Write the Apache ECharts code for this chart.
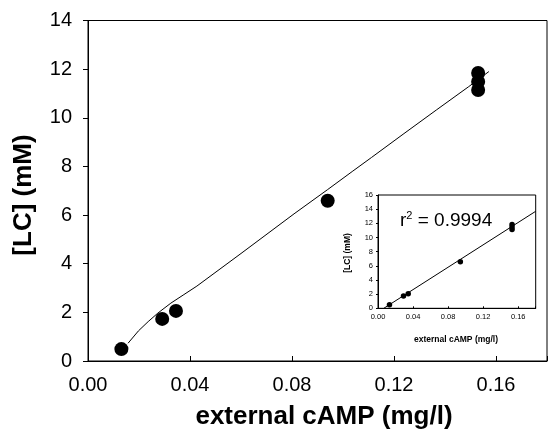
<!DOCTYPE html>
<html>
<head>
<meta charset="utf-8">
<script src="https://cdn.jsdelivr.net/npm/echarts@6/dist/echarts.min.js"></script>
<style>
html,body{margin:0;padding:0;background:#fff;}
#chart{width:550px;height:441px;}
</style>
</head>
<body>
<div id="chart"></div>
<script>
// measured data points
const dataX = [0.0131, 0.0291, 0.0345, 0.094, 0.153, 0.153, 0.153];
const dataY = [0.49, 1.73, 2.06, 6.59, 11.84, 11.48, 11.14];
// fitted curve (main panel)
const curveX = [0.0157, 0.0198, 0.0236, 0.0274, 0.0325, 0.0376, 0.0427, 0.0600, 0.0808, 0.0940, 0.1036, 0.1112, 0.1239, 0.1366, 0.1493, 0.1572];
const curveY = [0.73, 1.24, 1.62, 1.97, 2.38, 2.73, 3.08, 4.42, 6.05, 7.05, 7.79, 8.37, 9.35, 10.32, 11.28, 11.90];
// linear fit (inset)
const fitX = [0.0066, 0.18];
const fitY = [0, 13.7];
// ticks
const mainXTicks = [0, 0.04, 0.08, 0.12, 0.16];
const mainYTicks = [0, 2, 4, 6, 8, 10, 12, 14];
const insetXTicks = [0, 0.04, 0.08, 0.12, 0.16];
const insetYTicks = [0, 2, 4, 6, 8, 10, 12, 14, 16];
const rSquared = '0.9994';

const F = 'Liberation Sans, Arial, sans-serif';
const zip = (a, b) => a.map((v, i) => [v, b[i]]);
const inTicks = (arr, v) => arr.some(t => Math.abs(t - v) < 1e-9);

const chart = echarts.init(document.getElementById('chart'));
chart.setOption({
  animation: false,
  backgroundColor: '#fff',
  grid: [
    {left: 88, top: 20.5, width: 472.5, height: 340.5, show: true, borderColor: '#000', borderWidth: 1},
    {left: 378, top: 195, width: 157.7, height: 113.3, show: true, borderColor: '#000', borderWidth: 1, backgroundColor: '#fff', z: 10}
  ],
  xAxis: [
    {gridIndex: 0, type: 'value', min: 0, max: 0.18, interval: 0.04,
     axisLine: {show: true, lineStyle: {color: '#000', width: 1}},
     axisTick: {show: true, inside: true, length: 5, lineStyle: {color: '#000'}},
     splitLine: {show: false},
     axisLabel: {fontFamily: F, fontSize: 20, color: '#000', margin: 14,
       formatter: v => inTicks(mainXTicks, v) ? v.toFixed(2) : ''}},
    {gridIndex: 1, type: 'value', min: 0, max: 0.18, interval: 0.04,
     axisLine: {show: true, lineStyle: {color: '#000', width: 1}},
     axisTick: {show: true, inside: true, length: 2, lineStyle: {color: '#000'}},
     splitLine: {show: false},
     axisLabel: {fontFamily: F, fontSize: 7.5, color: '#000', margin: 5,
       formatter: v => inTicks(insetXTicks, v) ? v.toFixed(2) : ''},
     z: 10}
  ],
  yAxis: [
    {gridIndex: 0, type: 'value', min: 0, max: 14, interval: 2,
     axisLine: {show: true, lineStyle: {color: '#000', width: 1}},
     axisTick: {show: true, length: 5, lineStyle: {color: '#000'}},
     splitLine: {show: false},
     axisLabel: {fontFamily: F, fontSize: 20, color: '#000', margin: 16,
       formatter: v => inTicks(mainYTicks, v) ? String(v) : ''}},
    {gridIndex: 1, type: 'value', min: 0, max: 16, interval: 2,
     axisLine: {show: true, lineStyle: {color: '#000', width: 1}},
     axisTick: {show: true, length: 2, lineStyle: {color: '#000'}},
     splitLine: {show: false},
     axisLabel: {fontFamily: F, fontSize: 7.5, color: '#000', margin: 5,
       formatter: v => inTicks(insetYTicks, v) ? String(v) : ''},
     z: 10}
  ],
  series: [
    {type: 'line', xAxisIndex: 0, yAxisIndex: 0, data: zip(curveX, curveY), showSymbol: false, symbol: 'none',
     smooth: false, lineStyle: {color: '#000', width: 1}, z: 2},
    {type: 'scatter', xAxisIndex: 0, yAxisIndex: 0, data: zip(dataX, dataY), symbolSize: 14,
     itemStyle: {color: '#000', opacity: 1}, z: 3},
    {type: 'line', xAxisIndex: 1, yAxisIndex: 1, data: zip(fitX, fitY), showSymbol: false, symbol: 'none',
     lineStyle: {color: '#000', width: 1}, z: 11},
    {type: 'scatter', xAxisIndex: 1, yAxisIndex: 1, data: zip(dataX, dataY), symbolSize: 5.5,
     itemStyle: {color: '#000', opacity: 1}, z: 12}
  ],
  graphic: [
    {type: 'text', z: 20, x: 324, y: 417,
     style: {text: 'external cAMP (mg/l)', font: 'bold 26px ' + F, fill: '#000', x: 0, y: 0, align: 'center', verticalAlign: 'middle'}},
    {type: 'text', z: 20, rotation: Math.PI / 2, x: 24, y: 195,
     style: {text: '[LC] (mM)', font: 'bold 26px ' + F, fill: '#000', x: 0, y: 0, align: 'center', verticalAlign: 'middle'}},
    {type: 'text', z: 20, x: 456, y: 340,
     style: {text: 'external cAMP (mg/l)', font: 'bold 8.5px ' + F, fill: '#000', x: 0, y: 0, align: 'center', verticalAlign: 'middle'}},
    {type: 'text', z: 20, rotation: Math.PI / 2, x: 348, y: 253,
     style: {text: '[LC] (mM)', font: 'bold 8.5px ' + F, fill: '#000', x: 0, y: 0, align: 'center', verticalAlign: 'middle'}},
    {type: 'text', z: 20, x: 400, y: 221,
     style: {rich: {sup: {fontSize: 11, fontFamily: F, fill: '#000', verticalAlign: 'top', padding: [0,0,10,0]}, n: {fontSize: 19, fontFamily: F, fill: '#000'}},
       text: '{n|r}{sup|2}{n| = ' + rSquared + '}', align: 'left', verticalAlign: 'middle'}}
  ]
});
</script>
</body>
</html>
